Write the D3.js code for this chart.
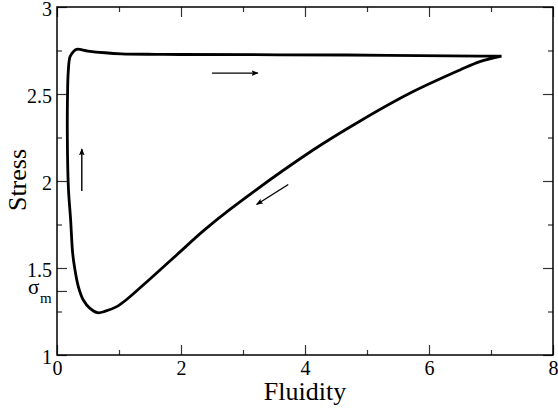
<!DOCTYPE html>
<html>
<head>
<meta charset="utf-8">
<script src="https://cdn.jsdelivr.net/npm/d3@7"></script>
<style>
body { margin: 0; background: #fff; }
svg text { font-family: "Liberation Serif", "Times New Roman", serif; }
</style>
</head>
<body>
<div id="chart"></div>
<script>
// loop, in the order it is travelled
var fluidity = [7.17, 6.82, 6.5, 5.69, 4.89, 4.13, 2.79, 2.36, 1.93, 1.5, 1.124, 0.963, 0.78, 0.656,
                0.532, 0.424, 0.344, 0.29, 0.253, 0.22, 0.183, 0.166, 0.17, 0.18, 0.21, 0.263, 0.317,
                0.5, 0.774, 1.04, 1.58, 1.98, 4.67, 6.82, 7.17];
var stress = [2.718, 2.686, 2.638, 2.504, 2.345, 2.178, 1.837, 1.713, 1.575, 1.437, 1.319, 1.278, 1.252, 1.243,
              1.268, 1.316, 1.393, 1.489, 1.584, 1.776, 1.967, 2.293, 2.494, 2.619, 2.714, 2.743, 2.757,
              2.747, 2.737, 2.731, 2.728, 2.727, 2.724, 2.718, 2.718];

// direction arrows: [x1, y1, x2, y2] in data units
var arrows = [
    [2.5, 2.62, 3.24, 2.62],
    [0.40, 1.943, 0.40, 2.184],
    [3.73, 1.98, 3.22, 1.865]
];

var xMajor = [0, 2, 4, 6, 8];
var xMinor = [1, 3, 5, 7];
var yMajor = [1, 1.5, 2, 2.5, 3];
var yMinor = [1.25, 1.75, 2.25, 2.75];
var sigmaM = 1.368;

var svgWidth = 558;
var svgHeight = 411;

var margin = {
    top: 7,
    right: 5,
    bottom: 56,
    left: 57
};

var width = svgWidth - margin.left - margin.right;
var height = svgHeight - margin.top - margin.bottom;

var svg = d3.select("#chart")
    .append("svg")
    .attr("width", svgWidth)
    .attr("height", svgHeight);

var chartGroup = svg.append("g")
    .attr("transform", `translate(${margin.left}, ${margin.top})`);

var xScale = d3.scaleLinear().domain([0, 8]).range([0, width]);
var yScale = d3.scaleLinear().domain([1, 3]).range([height, 0]);

// axes, ticks pointing inward on every side
function styleAxis(g) {
    g.attr("font-family", null).attr("font-size", null);
    g.select(".domain").remove();
    g.selectAll("line").attr("stroke", "#333").attr("stroke-width", 1.2);
    g.selectAll("text")
        .style("font-size", "20px")
        .attr("fill", "#000");
}

chartGroup.append("g")
    .attr("transform", `translate(0, ${height})`)
    .call(d3.axisBottom(xScale).tickValues(xMajor).tickSize(-10).tickPadding(6).tickFormat(d3.format("d")))
    .call(styleAxis);
chartGroup.append("g")
    .attr("transform", `translate(0, ${height})`)
    .call(d3.axisBottom(xScale).tickValues(xMinor).tickSize(-5).tickFormat(""))
    .call(styleAxis);
chartGroup.append("g")
    .call(d3.axisTop(xScale).tickValues(xMajor).tickSize(-10).tickFormat(""))
    .call(styleAxis);
chartGroup.append("g")
    .call(d3.axisTop(xScale).tickValues(xMinor).tickSize(-5).tickFormat(""))
    .call(styleAxis);

var yAxis = chartGroup.append("g")
    .call(d3.axisLeft(yScale).tickValues(yMajor).tickSize(-10).tickPadding(5).tickFormat(d => d))
    .call(styleAxis);
yAxis.selectAll("text").attr("dy", "0.4em");
chartGroup.append("g")
    .call(d3.axisLeft(yScale).tickValues(yMinor).tickSize(-5).tickFormat(""))
    .call(styleAxis);
chartGroup.append("g")
    .call(d3.axisLeft(yScale).tickValues([sigmaM]).tickSize(-10).tickFormat(""))
    .call(styleAxis);
chartGroup.append("g")
    .attr("transform", `translate(${width}, 0)`)
    .call(d3.axisRight(yScale).tickValues(yMajor).tickSize(-10).tickFormat(""))
    .call(styleAxis);
chartGroup.append("g")
    .attr("transform", `translate(${width}, 0)`)
    .call(d3.axisRight(yScale).tickValues(yMinor).tickSize(-5).tickFormat(""))
    .call(styleAxis);

// frame
chartGroup.append("rect")
    .attr("width", width)
    .attr("height", height)
    .attr("fill", "none")
    .attr("stroke", "#000")
    .attr("stroke-width", 1.5);

// sigma_m label next to its tick
chartGroup.append("text")
    .attr("x", 28 - margin.left)
    .attr("y", yScale(sigmaM) + 3)
    .style("font-size", "21px")
    .text("σ");
chartGroup.append("text")
    .attr("x", 40 - margin.left)
    .attr("y", yScale(sigmaM) + 12)
    .style("font-size", "15px")
    .text("m");

// the loop
var line = d3.line()
    .x((d, i) => xScale(fluidity[i]))
    .y((d, i) => yScale(stress[i]))
    .curve(d3.curveCatmullRom.alpha(0.5));

chartGroup.append("path")
    .datum(fluidity)
    .attr("d", line)
    .attr("fill", "none")
    .attr("stroke", "#000")
    .attr("stroke-width", 2.8)
    .attr("stroke-linejoin", "round");

// arrows
svg.append("defs").append("marker")
    .attr("id", "head")
    .attr("viewBox", "0 0 10 10")
    .attr("refX", 9)
    .attr("refY", 5)
    .attr("markerWidth", 7)
    .attr("markerHeight", 7)
    .attr("markerUnits", "userSpaceOnUse")
    .attr("orient", "auto")
    .append("path")
    .attr("d", "M0,1 L10,5 L0,9 L2,5 Z")
    .attr("fill", "#000");

chartGroup.selectAll(".arrow")
    .data(arrows)
    .enter()
    .append("line")
    .attr("x1", d => xScale(d[0]))
    .attr("y1", d => yScale(d[1]))
    .attr("x2", d => xScale(d[2]))
    .attr("y2", d => yScale(d[3]))
    .attr("stroke", "#000")
    .attr("stroke-width", 1.4)
    .attr("marker-end", "url(#head)");

// axis titles
chartGroup.append("text")
    .attr("x", width / 2)
    .attr("y", height + 45)
    .attr("text-anchor", "middle")
    .style("font-size", "26px")
    .text("Fluidity");

chartGroup.append("text")
    .attr("transform", "rotate(-90)")
    .attr("x", 0 - (180 - margin.top))
    .attr("y", 26 - margin.left)
    .attr("text-anchor", "middle")
    .style("font-size", "26px")
    .text("Stress");
</script>
</body>
</html>
